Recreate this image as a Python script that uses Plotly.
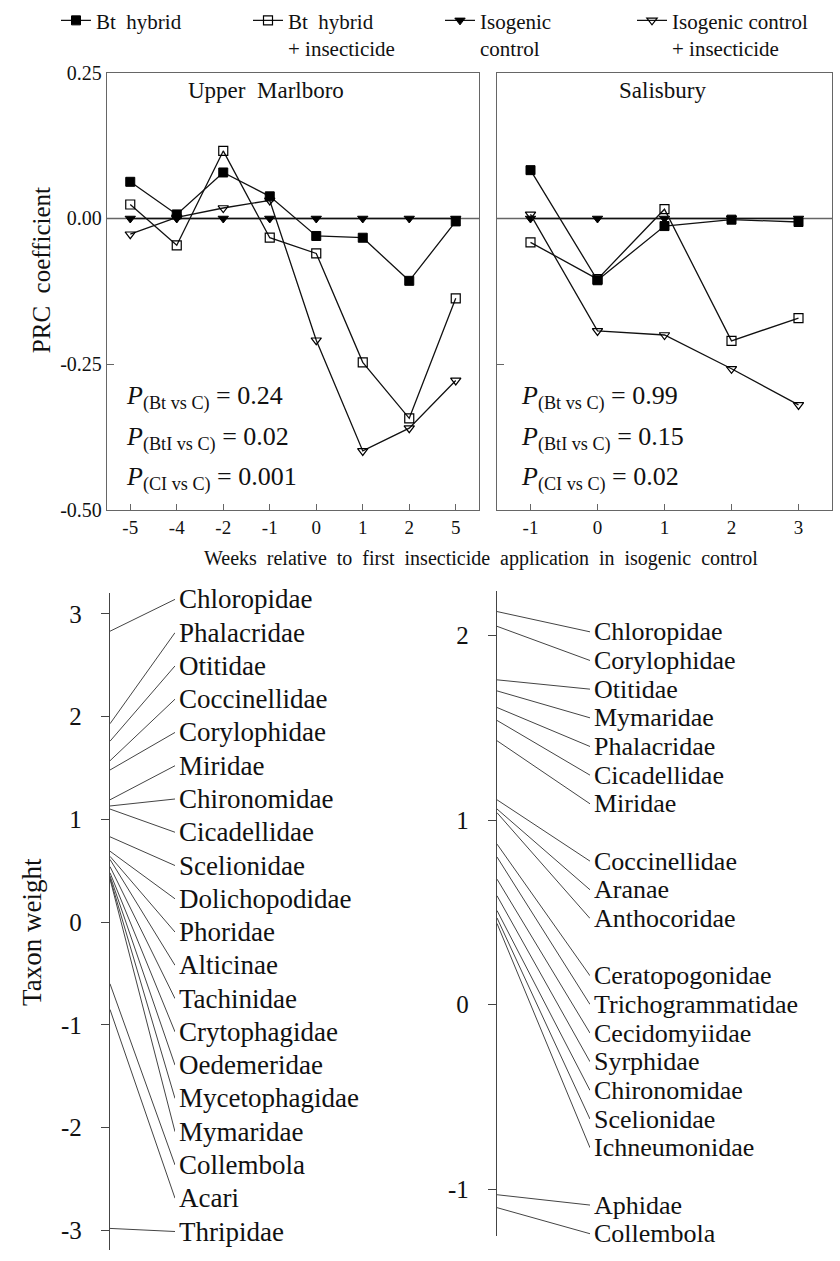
import plotly.graph_objects as go
import numpy as np

W, H = 840, 1261
FONT = "Liberation Serif, Times New Roman, serif"
NB = "\u00a0"

# ---------------- data ----------------
weeks_um = ["-5", "-4", "-2", "-1", "0", "1", "2", "5"]
bt_um = [0.063, 0.007, 0.079, 0.038, -0.030, -0.033, -0.107, -0.005]
bti_um = [0.024, -0.046, 0.116, -0.033, -0.060, -0.247, -0.343, -0.137]
iso_um = [0.0, 0.0, 0.0, 0.0, 0.0, 0.0, 0.0, 0.0]
isoi_um = [-0.027, 0.002, 0.018, 0.031, -0.209, -0.399, -0.360, -0.278]

weeks_sa = ["-1", "0", "1", "2", "3"]
bt_sa = [0.083, -0.106, -0.013, -0.002, -0.006]
bti_sa = [-0.041, -0.104, 0.016, -0.210, -0.171]
iso_sa = [0.0, 0.0, 0.0, 0.0, 0.0]
isoi_sa = [0.007, -0.193, -0.200, -0.258, -0.320]

series_names = ["Bt" + NB * 2 + "hybrid",
                "Bt" + NB * 2 + "hybrid<br>+" + NB + "insecticide",
                "Isogenic<br>control",
                "Isogenic" + NB + "control<br>+" + NB + "insecticide"]

p_um = ["0.24", "0.02", "0.001"]
p_sa = ["0.99", "0.15", "0.02"]
p_subs = ["(Bt vs C)", "(BtI vs C)", "(CI vs C)"]

um_taxa = ["Chloropidae", "Phalacridae", "Otitidae", "Coccinellidae", "Corylophidae",
           "Miridae", "Chironomidae", "Cicadellidae", "Scelionidae", "Dolichopodidae",
           "Phoridae", "Alticinae", "Tachinidae", "Crytophagidae", "Oedemeridae",
           "Mycetophagidae", "Mymaridae", "Collembola", "Acari", "Thripidae"]
um_weights = [2.83, 1.93, 1.76, 1.57, 1.48, 1.19, 1.13, 1.10, 0.83, 0.69,
              0.64, 0.61, 0.54, 0.48, 0.45, 0.43, 0.42, -0.60, -0.85, -2.98]
um_ticks = [3, 2, 1, 0, -1, -2, -3]

sa_taxa = ["Chloropidae", "Corylophidae", "Otitidae", "Mymaridae", "Phalacridae",
           "Cicadellidae", "Miridae", "Coccinellidae", "Aranae", "Anthocoridae",
           "Ceratopogonidae", "Trichogrammatidae", "Cecidomyiidae", "Syrphidae",
           "Chironomidae", "Scelionidae", "Ichneumonidae", "Aphidae", "Collembola"]
sa_weights = [2.13, 2.05, 1.76, 1.70, 1.61, 1.54, 1.43, 1.11, 1.06, 1.04,
              0.87, 0.80, 0.68, 0.59, 0.51, 0.47, 0.44, -1.03, -1.10]
sa_ticks = [2, 1, 0, -1]
sa_group_breaks = [7, 10, 17]   # label groups are separated by a blank row


def px(x):
    return x / W


def py(y):
    return 1 - y / H


def tick_text(vals):
    return [str(v) for v in vals]   # plain hyphen minus, as in the original


fig = go.Figure()

# ---------------- top panels ----------------
styles = [
    dict(symbol="square", color="black", line=dict(color="black", width=1)),
    dict(symbol="square-open", color="black", line=dict(color="black", width=1.2)),
    dict(symbol="triangle-down", color="black", line=dict(color="black", width=1)),
    dict(symbol="triangle-down-open", color="black", line=dict(color="black", width=1.2)),
]
um_series = [bt_um, bti_um, iso_um, isoi_um]
sa_series = [bt_sa, bti_sa, iso_sa, isoi_sa]
order = [2, 3, 1, 0]  # drawing order so filled markers stay visible
for k in order:
    fig.add_trace(go.Scatter(x=weeks_um, y=um_series[k], mode="lines+markers",
                             name=series_names[k], legendrank=k + 1,
                             line=dict(color="#111", width=1.3),
                             marker=dict(size=9, **styles[k]),
                             xaxis="x", yaxis="y", showlegend=True))
for k in order:
    fig.add_trace(go.Scatter(x=weeks_sa, y=sa_series[k], mode="lines+markers",
                             name=series_names[k],
                             line=dict(color="#111", width=1.3),
                             marker=dict(size=9, **styles[k]),
                             xaxis="x2", yaxis="y2", showlegend=False))

top_y = [py(507), py(62)]
axcol = "#666"
common_x = dict(showline=True, mirror=True, linecolor=axcol, linewidth=1.3,
                ticks="inside", ticklen=6, tickcolor=axcol, showgrid=False,
                zeroline=False, type="category",
                tickfont=dict(family=FONT, size=19, color="#111"))
common_y = dict(showline=True, mirror=True, linecolor=axcol, linewidth=1.3,
                ticks="inside", ticklen=7, tickcolor=axcol, showgrid=False,
                zeroline=False, range=[-0.5, 0.25], tickvals=[0.25, 0, -0.25, -0.5],
                ticktext=["0.25", "0.00", "-0.25", "-0.50"],
                tickfont=dict(family=FONT, size=20, color="#111"))

fig.update_layout(
    xaxis=dict(domain=[px(107), px(479)], anchor="y", range=[-0.5, 7.5], **common_x),
    yaxis=dict(domain=top_y, anchor="x", **common_y),
    xaxis2=dict(domain=[px(497), px(832)], anchor="y2", range=[-0.5, 4.5], **common_x),
    yaxis2=dict(domain=top_y, anchor="x2", showticklabels=False, **common_y),
)

for xr in ["x", "x2"]:
    fig.add_shape(type="line", xref=xr + " domain", yref="y" + xr[1:], x0=0, x1=1, y0=0, y1=0,
                  line=dict(color=axcol, width=1.3), layer="below")

# panel titles
for txt, cx in [("Upper" + NB * 2 + "Marlboro", 266), ("Salisbury", 662)]:
    fig.add_annotation(text=txt, x=px(cx), y=py(80), xref="paper", yref="paper",
                       xanchor="center", yanchor="middle",
                       showarrow=False, font=dict(family=FONT, size=23, color="#111"))

# P values
for i, (pu, ps, sub) in enumerate(zip(p_um, p_sa, p_subs)):
    yy = py(393 + i * 41)
    for xx, val in [(px(124), pu), (px(519), ps)]:
        fig.add_annotation(text="<i>P</i><sub>" + sub + "</sub> = " + val, x=xx, y=yy,
                           xref="paper", yref="paper", xanchor="left", yanchor="middle",
                           showarrow=False, font=dict(family=FONT, size=26, color="#111"))

# axis titles
fig.add_annotation(text="PRC" + NB * 2 + "coefficient", x=px(41), y=py(263), xref="paper", yref="paper",
                   xanchor="center", yanchor="middle",
                   textangle=-90, showarrow=False, font=dict(family=FONT, size=25, color="#111"))
fig.add_annotation(text=(NB * 2).join("Weeks relative to first insecticide application in isogenic control".split()),
                   x=px(481), y=py(557), xref="paper", yref="paper", xanchor="center", yanchor="middle",
                   showarrow=False, font=dict(family=FONT, size=20, color="#111"))

# ---------------- bottom panels ----------------
lc = "#444"
# Upper Marlboro taxa
um_top, um_bot = 3.14, -3.01
um_label_y = np.linspace(um_top, um_bot, len(um_taxa))
for t, wv, ly in zip(um_taxa, um_weights, um_label_y):
    fig.add_trace(go.Scatter(x=[0, 1], y=[wv, ly], mode="lines", xaxis="x3", yaxis="y3",
                             line=dict(color=lc, width=1), showlegend=False, hoverinfo="skip"))
    fig.add_annotation(text=t, x=1, y=ly, xref="x3", yref="y3", xanchor="left", yanchor="middle",
                       xshift=2, showarrow=False, font=dict(family=FONT, size=27, color="#111"))

# Salisbury taxa
sa_top, sa_step = 2.02, 0.1553
slots = []
for i in range(len(sa_taxa)):
    slots.append(i + sum(1 for b in sa_group_breaks if i >= b))
sa_label_y = [sa_top - s * sa_step for s in slots]
for t, wv, ly in zip(sa_taxa, sa_weights, sa_label_y):
    fig.add_trace(go.Scatter(x=[0, 1], y=[wv, ly], mode="lines", xaxis="x4", yaxis="y4",
                             line=dict(color=lc, width=1), showlegend=False, hoverinfo="skip"))
    fig.add_annotation(text=t, x=1, y=ly, xref="x4", yref="y4", xanchor="left", yanchor="middle",
                       xshift=2, showarrow=False, font=dict(family=FONT, size=26, color="#111"))

bot_x = dict(range=[0, 1], visible=False, fixedrange=True)
bot_y = dict(showline=True, linecolor=lc, linewidth=1.3, ticks="outside", ticklen=8,
             tickcolor=lc, showgrid=False, zeroline=False, ticklabelstandoff=14,
             tickfont=dict(family=FONT, size=25, color="#111"))
fig.update_layout(
    xaxis3=dict(domain=[px(110), px(175)], anchor="y3", **bot_x),
    yaxis3=dict(domain=[0, py(592)], anchor="x3", range=[-3.19, 3.20],
                tickvals=um_ticks, ticktext=tick_text(um_ticks), **bot_y),
    xaxis4=dict(domain=[px(497), px(590)], anchor="y4", **bot_x),
    yaxis4=dict(domain=[py(1247), py(590)], anchor="x4", range=[-1.255, 2.24],
                tickvals=sa_ticks, ticktext=tick_text(sa_ticks), **bot_y),
)

fig.add_annotation(text="Taxon" + NB + "weight", x=px(32), y=py(937), xref="paper", yref="paper",
                   xanchor="center", yanchor="middle",
                   textangle=-90, showarrow=False, font=dict(family=FONT, size=27, color="#111"))

fig.update_layout(
    width=W, height=H, margin=dict(l=0, r=0, t=0, b=0),
    paper_bgcolor="white", plot_bgcolor="white",
    showlegend=True,
    legend=dict(orientation="h", x=px(56), y=py(-12), xanchor="left", yanchor="top",
                valign="top", entrywidthmode="pixels", entrywidth=147,
                font=dict(family=FONT, size=21, color="#111"),
                bgcolor="rgba(0,0,0,0)", itemwidth=30),
    font=dict(family=FONT),
)

fig.write_html("out.html")
